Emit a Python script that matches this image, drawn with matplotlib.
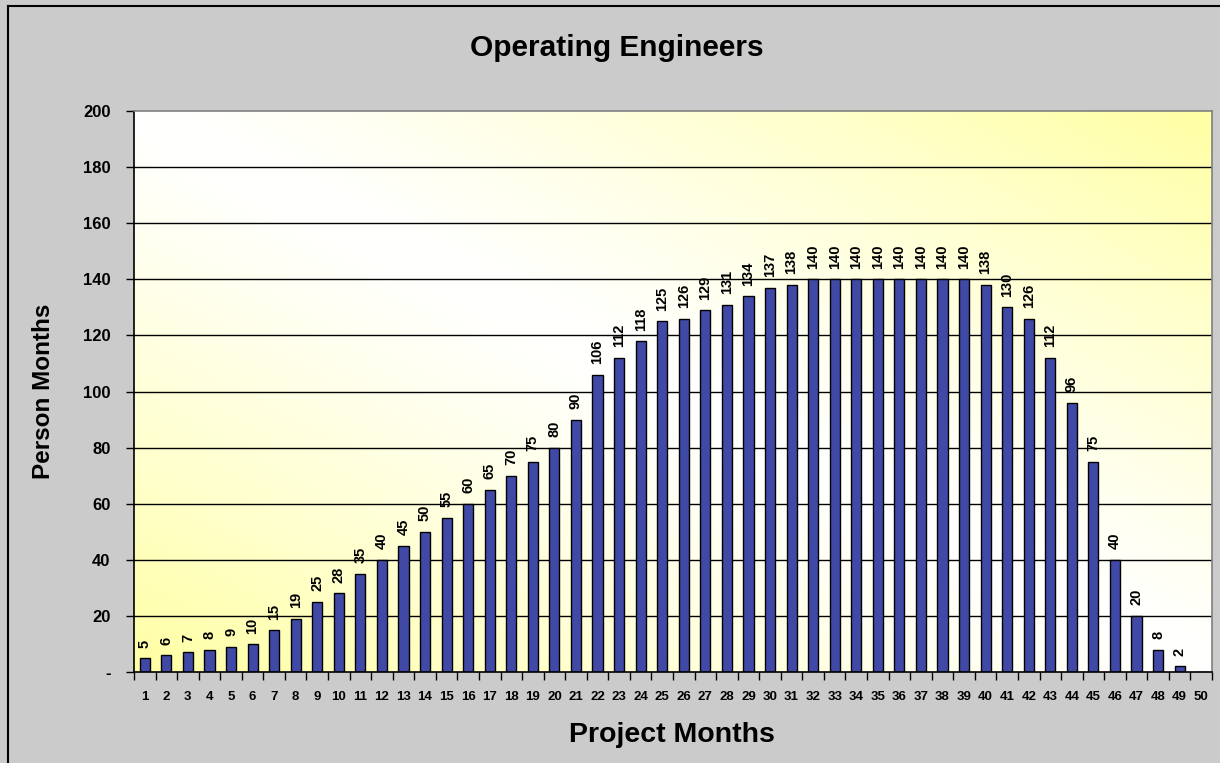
import numpy as np
import matplotlib
matplotlib.use('Agg')
import matplotlib.pyplot as plt
from matplotlib.colors import to_rgb
from matplotlib.lines import Line2D

months = list(range(1, 51))
person_months = [5, 6, 7, 8, 9, 10, 15, 19, 25, 28,
                 35, 40, 45, 50, 55, 60, 65, 70, 75, 80,
                 90, 106, 112, 118, 125, 126, 129, 131, 134, 137,
                 138, 140, 140, 140, 140, 140, 140, 140, 140, 138,
                 130, 126, 112, 96, 75, 40, 20, 8, 2, 0]
y_ticks = [0, 20, 40, 60, 80, 100, 120, 140, 160, 180, 200]
y_tick_labels = ['-'] + [str(v) for v in y_ticks[1:]]

plt.rcParams['font.family'] = ['Liberation Sans', 'DejaVu Sans']
plt.rcParams['font.weight'] = 'bold'

fig = plt.figure(figsize=(12.2, 7.63), dpi=100)
fig.patch.set_facecolor('#CBCBCB')

# 外框（左、上）
W, H = 1220, 763
fig.add_artist(Line2D([8 / W, 1], [1 - 6 / H, 1 - 6 / H], color='black', lw=1.5,
                      transform=fig.transFigure))
fig.add_artist(Line2D([8 / W, 8 / W], [0, 1 - 6 / H], color='black', lw=1.5,
                      transform=fig.transFigure))

ax = fig.add_axes([134 / W, 91 / H, (1212 - 134) / W, (672 - 111) / H])
ax.patch.set_visible(False)

# 渐变背景：对角线白色，左下和右上为黄色
gx, gy = np.meshgrid(np.linspace(0, 1, 400), np.linspace(0, 1, 250))
t = np.clip(np.abs(gx + gy - 1), 0, 1) ** 1.2
t = t[..., None]
white = np.array([1.0, 1.0, 1.0])
yellow = np.array(to_rgb('#FFFFA4'))
img = white * (1 - t) + yellow * t
ax.imshow(img, extent=[0, 1, 0, 1], origin='lower', transform=ax.transAxes,
          aspect='auto', zorder=0, interpolation='bilinear')

# 网格线
for v in y_ticks[1:-1]:
    ax.axhline(v, color='black', lw=1, zorder=1)

bars = ax.bar(months, person_months, width=0.47, color='#4149A7',
              edgecolor='black', linewidth=1, zorder=2)

for m, v in zip(months, person_months):
    if v > 0:
        ax.annotate(str(v), (m, v), xytext=(0, 7.5), textcoords='offset points',
                    rotation=90, ha='center', va='bottom', fontsize=10.5,
                    fontweight='bold', zorder=3)

ax.set_xlim(0.5, 50.5)
ax.set_ylim(0, 200)

ax.set_yticks(y_ticks)
ax.set_yticklabels(y_tick_labels)
ax.tick_params(axis='y', direction='out', length=6, width=1, pad=11,
               labelsize=12, color='black')

ax.set_xticks(np.arange(0.5, 51, 1))
ax.set_xticklabels([])
ax.set_xticks(months, minor=True)
ax.set_xticklabels([str(m) for m in months], minor=True)
ax.tick_params(axis='x', which='major', direction='out', length=6, width=1)
ax.tick_params(axis='x', which='minor', length=0, pad=14, labelsize=9.5)
for lab in ax.get_xticklabels(minor=True) + ax.get_yticklabels():
    lab.set_fontweight('bold')

ax.spines['left'].set_color('black')
ax.spines['bottom'].set_color('black')
ax.spines['top'].set_color('#808080')
ax.spines['right'].set_color('#808080')
for s in ax.spines.values():
    s.set_linewidth(1.2)
    s.set_zorder(4)

fig.text(617 / W, 1 - 48 / H, 'Operating Engineers', ha='center', va='center',
         fontsize=21.5, fontweight='bold')
fig.text(672 / W, 1 - 735 / H, 'Project Months', ha='center', va='center',
         fontsize=20.5, fontweight='bold')
fig.text(44 / W, 1 - 391 / H, 'Person Months', ha='center', va='center',
         rotation=90, fontsize=17.5, fontweight='bold')

fig.savefig('out.png', dpi=100, facecolor=fig.get_facecolor())
